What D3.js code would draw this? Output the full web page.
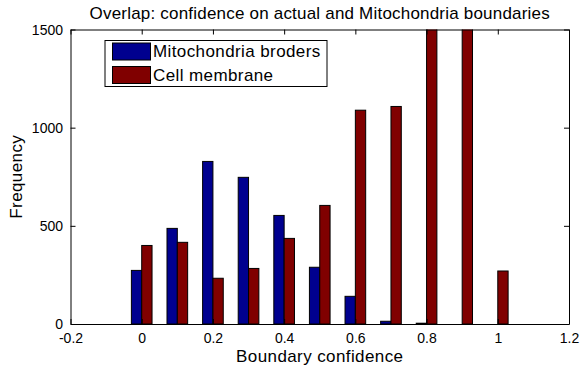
<!DOCTYPE html>
<html>
<head>
<meta charset="utf-8">
<script src="https://cdn.jsdelivr.net/npm/d3@7"></script>
<style>
  body { margin: 0; background: #fff; }
  text { font-family: "Liberation Sans", Arial, Helvetica, sans-serif; fill: #000; }
</style>
</head>
<body>
<div id="chart"></div>
<script>
// bin centres and histogram counts
var bins = [0, 0.1, 0.2, 0.3, 0.4, 0.5, 0.6, 0.7, 0.8, 0.9, 1.0];
var mitoCounts = [273, 487, 828, 747, 553, 289, 141, 14, 4, 0, 0];
var membraneCounts = [400, 416, 233, 283, 436, 604, 1089, 1108, 1750, 1900, 270]; // 0.8 and 0.9 run off the top
var seriesNames = ["Mitochondria broders", "Cell membrane"];
var seriesColors = ["#00008f", "#800000"];
var xTicks = [-0.2, 0, 0.2, 0.4, 0.6, 0.8, 1, 1.2];
var yTicks = [0, 500, 1000, 1500];

var W = 581, H = 368;
// plot box (note: "top" is taken by window.top, so pTop etc.)
var pLeft = 70.5, pRight = 569, pTop = 29.5, pBottom = 324;

var svg = d3.select("#chart").append("svg")
  .attr("width", W)
  .attr("height", H)

var x = d3.scaleLinear().domain([-0.2, 1.2]).range([pLeft, pRight]);
var y = d3.scaleLinear().domain([0, 1500]).range([pBottom, pTop]);
var barW = 0.029; // in data units

svg.append("defs").append("clipPath").attr("id", "plotClip")
  .append("rect")
    .attr("x", pLeft).attr("y", pTop)
    .attr("width", pRight - pLeft).attr("height", pBottom - pTop);

var bars = svg.append("g").attr("clip-path", "url(#plotClip)");

[mitoCounts, membraneCounts].forEach(function(counts, s) {
  bars.selectAll(".s" + s)
    .data(bins.map(function(b, i) { return {x: b, v: counts[i]}; }))
    .enter()
    .append("rect")
      .attr("class", "s" + s)
      .attr("x", function(d) { return x(d.x + (s - 1) * barW); })
      .attr("width", x(barW) - x(0))
      .attr("y", function(d) { return y(d.v); })
      .attr("height", function(d) { return y(0) - y(d.v); })
      .style("fill", seriesColors[s])
      .style("stroke", "#000")
      .style("stroke-width", 1)
})

// axes box, MATLAB style: ticks inward on all four sides
var fmt = function(d) { return String(+d.toFixed(1)); }; // plain hyphen minus, no thousands comma
var xAxisB = d3.axisBottom(x).tickValues(xTicks).tickSizeInner(-5).tickSizeOuter(0).tickFormat(fmt);
var xAxisT = d3.axisTop(x).tickValues(xTicks).tickSizeInner(-5).tickSizeOuter(0).tickFormat("");
var yAxisL = d3.axisLeft(y).tickValues(yTicks).tickSizeInner(-5).tickSizeOuter(0).tickFormat(fmt);
var yAxisR = d3.axisRight(y).tickValues(yTicks).tickSizeInner(-5).tickSizeOuter(0).tickFormat("");

var gb = svg.append("g").attr("transform", "translate(0," + pBottom + ")").call(xAxisB);
var gt = svg.append("g").attr("transform", "translate(0," + pTop + ")").call(xAxisT);
var gl = svg.append("g").attr("transform", "translate(" + pLeft + ",0)").call(yAxisL);
var gr = svg.append("g").attr("transform", "translate(" + pRight + ",0)").call(yAxisR);

[gb, gt, gl, gr].forEach(function(g) {
  g.select(".domain").style("stroke", "#000");
  g.selectAll(".tick line").style("stroke", "#000");
  g.selectAll(".tick text")
    .style("font-size", "14px")
    .style("font-family", "'Liberation Sans', Arial, sans-serif")
    .style("fill", "#000");
});
gb.selectAll(".tick text").attr("dy", "0").attr("y", 19);
gl.selectAll(".tick text").attr("x", -7.5).attr("dy", "0.35em");

// title and axis labels
svg.append("text")
  .attr("x", (pLeft + pRight) / 2)
  .attr("y", 19)
  .attr("text-anchor", "middle")
  .style("font-size", "17px")
  .style("letter-spacing", "0.2px")
  .text("Overlap: confidence on actual and Mitochondria boundaries");

svg.append("text")
  .attr("x", (pLeft + pRight) / 2)
  .attr("y", 362)
  .attr("text-anchor", "middle")
  .style("font-size", "17px")
  .style("letter-spacing", "0.4px")
  .text("Boundary confidence");

svg.append("text")
  .attr("transform", "translate(22," + ((pTop + pBottom) / 2) + ") rotate(-90)")
  .attr("text-anchor", "middle")
  .style("font-size", "17px")
  .style("letter-spacing", "0.4px")
  .text("Frequency");

// legend
var legend = svg.append("g").attr("transform", "translate(105,40.5)");
legend.append("rect")
  .attr("width", 222).attr("height", 46)
  .style("fill", "#fff").style("stroke", "#000").style("stroke-width", 1);

seriesNames.forEach(function(name, i) {
  legend.append("rect")
    .attr("x", 7.5).attr("y", 2.5 + i * 23.5)
    .attr("width", 38).attr("height", 17)
    .style("fill", seriesColors[i]).style("stroke", "#000");
  legend.append("text")
    .attr("x", 48).attr("y", 11 + i * 23.5)
    .attr("dy", "0.35em")
    .style("font-size", "17px")
    .style("letter-spacing", "0.4px")
    .text(name);
});
</script>
</body>
</html>
